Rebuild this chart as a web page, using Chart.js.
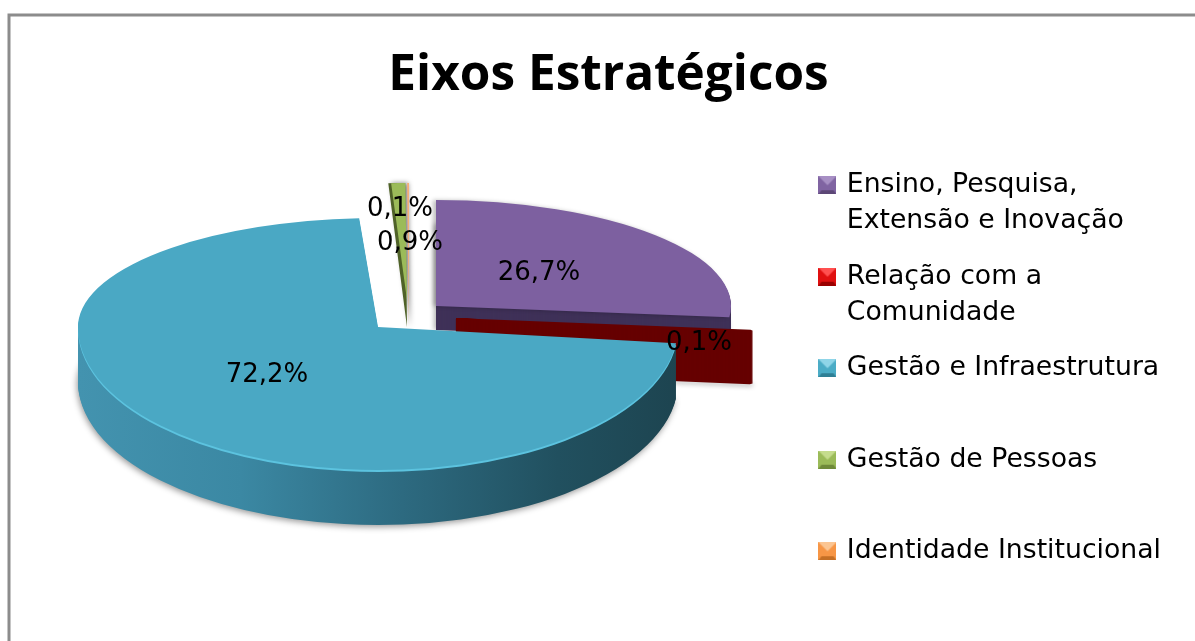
<!DOCTYPE html>
<html><head><meta charset="utf-8">
<style>html,body{margin:0;padding:0;background:#fff;overflow:hidden}
#w{position:relative;width:1195px;height:641px}
canvas#c{position:absolute;left:0;top:0}</style>
<script src="https://cdn.jsdelivr.net/npm/chart.js@4/dist/chart.umd.min.js"></script>
</head><body><div id="w"><canvas id="c" width="1195" height="641"></canvas></div>
<script>
const chartTitle = 'Eixos Estratégicos';
const categories = ['Ensino, Pesquisa, Extensão e Inovação','Relação com a Comunidade','Gestão e Infraestrutura','Gestão de Pessoas','Identidade Institucional'];
const legendLines = [['Ensino, Pesquisa,','Extensão e Inovação'],['Relação com a','Comunidade'],['Gestão e Infraestrutura',''],['Gestão de Pessoas',''],['Identidade Institucional','']];
const values = [26.7,0.1,72.2,0.9,0.1];
const valueLabels = ['26,7%','0,1%','72,2%','0,9%','0,1%'];

const swatchColors = [['#8064a2','#a78fc4','#5c4776'],['#e01010','#ff5050','#9a0000'],['#4bacc6','#8fd5e8','#2f7f95'],['#9bbb59','#c5dc8d','#6f8a3a'],['#f79646','#fbc592','#c56f25']];
const faceColors = ['#7d60a0','#7a0000','#4aa8c4','#9bbb59','#f6ae78'];
const wallColors = ['#3f3158','#660000',null,'#4f6228',null];
const view = [
 {x:436,y:306,rx:295,top:106,bot:106,depth:24},
 {x:456,y:319,rx:296,top:109,bot:109,depth:52},
 {x:378,y:327,rx:300,top:109,bot:143,depth:55},
 {x:407,y:327,rx:298,top:144,bot:144,depth:0},
 {x:409,y:327,rx:298,top:144,bot:144,depth:0}
];
const labelOffset = [[103,-33],[243,24],[-111,48],[3,-84],[-9,-118]];

function swatch(c){
  const s=document.createElement('canvas');s.width=s.height=18;const g=s.getContext('2d');
  g.fillStyle=c[0];g.fillRect(0,0,18,18);
  g.fillStyle=c[1];g.beginPath();g.moveTo(0,0);g.lineTo(18,0);g.lineTo(9,9);g.closePath();g.fill();
  g.fillStyle=c[2];g.beginPath();g.moveTo(0,18);g.lineTo(18,18);g.lineTo(15,14);g.lineTo(3,14);g.closePath();g.fill();
  return s;
}
const swatches = swatchColors.map(swatch);

const frame = {id:'frame',beforeDraw(ch){
  const c=ch.ctx;c.save();c.fillStyle='#fff';c.fillRect(0,0,ch.width,ch.height);
  c.strokeStyle='#8c8c8c';c.lineWidth=3;c.beginPath();c.moveTo(9,ch.height+5);c.lineTo(9,15);c.lineTo(ch.width+5,15);c.stroke();c.restore();
}};

function paint(ch,el,v,dy,fill,shadow,border){
  const c=ch.ctx,R=el.outerRadius,W=ch.width,H=ch.height,cy=v.y+dy,o=el.options;
  el.options=Object.assign({},o,{backgroundColor:fill,borderWidth:border||0,borderColor:fill,borderAlign:'center'});
  [[0,cy,v.top],[cy,H-cy,v.bot]].forEach(([y0,h,ry])=>{
    c.save();c.beginPath();c.rect(0,y0,W,h);c.clip();
    if(shadow){c.shadowColor=shadow[0];c.shadowBlur=shadow[1];c.shadowOffsetX=shadow[2];c.shadowOffsetY=shadow[3];}
    c.translate(v.x,cy);c.scale(v.rx/R,ry/R);c.translate(-el.x,-el.y);
    el.draw(c);c.restore();
  });
  el.options=o;
}
const pie3d = {id:'pie3d',beforeDatasetsDraw(ch){
  const els=ch.getDatasetMeta(0).data,c=ch.ctx;
  // Gestão de Pessoas
  paint(ch,els[3],view[3],0,wallColors[3],['rgba(0,0,0,.5)',5,3,0]);
  paint(ch,els[3],{x:407,y:300,rx:253,top:117,bot:117},0,faceColors[3]);
  // Identidade Institucional
  paint(ch,els[4],view[4],0,faceColors[4]);
  // Ensino
  paint(ch,els[0],view[0],view[0].depth,wallColors[0],['rgba(0,0,0,.3)',5,-2,0]);
  for(let d=view[0].depth-1;d>0;d--)paint(ch,els[0],view[0],d,wallColors[0]);
  paint(ch,els[0],view[0],0,faceColors[0],['rgba(0,0,0,.25)',4,-3,0]);
  // Relação
  const vr=view[1];
  paint(ch,els[1],vr,vr.depth,wallColors[1],['rgba(0,0,0,.3)',5,1,2],4);
  for(let d=vr.depth-1;d>=0;d--)paint(ch,els[1],vr,d,wallColors[1],null,4);
  // Gestão e Infraestrutura
  const vb=view[2],el=els[2],k=el.outerRadius/vb.rx,toSrc=x=>el.x+(x-vb.x)*k;
  const g=c.createLinearGradient(toSrc(79),0,toSrc(678),0);
  [[0,'#4393af'],[.27,'#3b88a3'],[.54,'#2d6a80'],[.8,'#21505f'],[1,'#1d4450']].forEach(s=>g.addColorStop(s[0],s[1]));
  paint(ch,el,vb,vb.depth,g,['rgba(0,0,0,.4)',6,-1,2]);
  for(let d=vb.depth-1;d>2;d--)paint(ch,el,vb,d,g);
  paint(ch,el,vb,2,'#5cc3df');
  paint(ch,el,vb,0,faceColors[2]);
  // rótulos
  c.save();c.font='26px "DejaVu Sans"';c.fillStyle='#000';c.textAlign='center';c.textBaseline='middle';
  els.forEach((e,i)=>c.fillText(valueLabels[i],view[i].x+labelOffset[i][0],view[i].y+labelOffset[i][1]));
  c.restore();
  return false;
}};

new Chart(document.getElementById('c'),{
  type:'pie',
  data:{labels:categories,datasets:[{data:values,backgroundColor:faceColors,borderWidth:0}]},
  plugins:[frame,pie3d],
  options:{
    responsive:false,animation:false,
    layout:{padding:{left:46,right:24,top:0,bottom:0}},
    events:[],
    plugins:{
      tooltip:{enabled:false},
      title:{display:true,text:chartTitle,color:'#000',font:{family:'"Open Sans"',size:49.5,weight:'bold'},padding:{top:46,bottom:47}},
      legend:{position:'right',align:'start',fullSize:false,
        labels:{color:'#000',font:{family:'"DejaVu Sans"',size:26.7,lineHeight:36/26.7},usePointStyle:true,boxWidth:12,boxHeight:18,padding:19.5,
          generateLabels:()=>legendLines.map((t,i)=>({text:t,pointStyle:swatches[i],hidden:false,index:i,fontColor:'#000'}))}
      }
    }
  }
});
</script></body></html>
